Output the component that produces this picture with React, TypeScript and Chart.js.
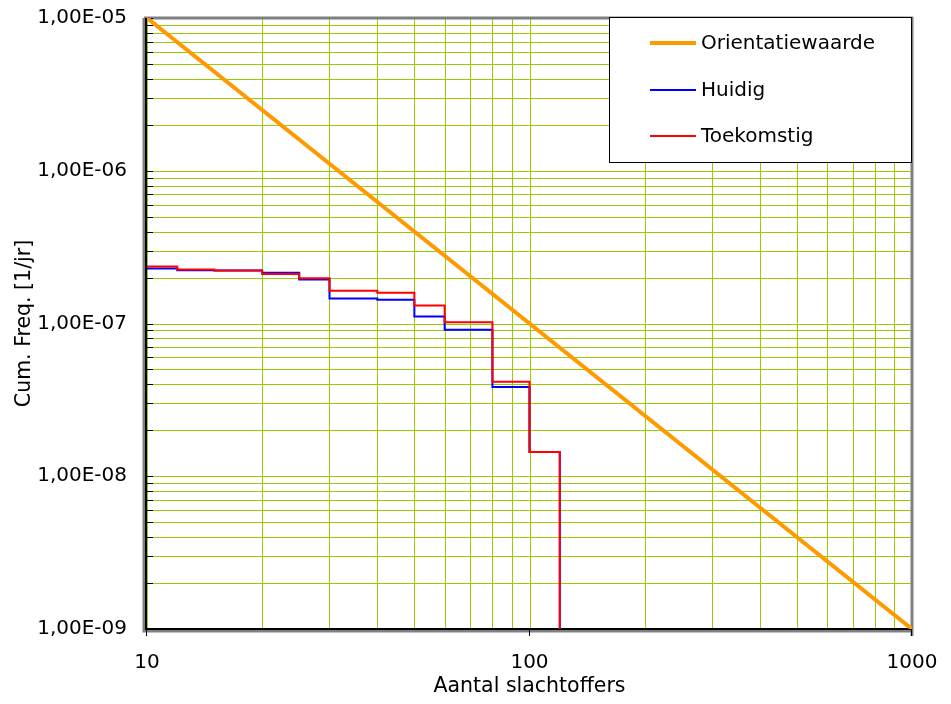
import React, { useEffect, useRef } from "react";
import { Chart, registerables } from "chart.js";

Chart.register(...registerables);

const stepX = [10, 12, 15, 20, 25, 30, 40, 50, 60, 80, 100, 120];
const huidig = [2.29e-7, 2.23e-7, 2.22e-7, 2.15e-7, 1.94e-7, 1.46e-7, 1.43e-7, 1.11e-7, 9.1e-8, 3.84e-8, 1.44e-8, 1e-9];
const toekomstig = [2.36e-7, 2.26e-7, 2.22e-7, 2.11e-7, 1.98e-7, 1.64e-7, 1.59e-7, 1.31e-7, 1.02e-7, 4.16e-8, 1.44e-8, 1e-9];
const orientX = [10, 1000];
const orientY = [1e-5, 1e-9];

const xTickValues = [10, 20, 30, 40, 50, 60, 70, 80, 90, 100, 200, 300, 400, 500, 600, 700, 800, 900, 1000];
const xMajor = [10, 100, 1000];
const xTickLabels = ["10", "100", "1000"];
const yDecades = [1e-9, 1e-8, 1e-7, 1e-6, 1e-5];
const yDecadeLabels = ["1,00E-09", "1,00E-08", "1,00E-07", "1,00E-06", "1,00E-05"];
const yMultipliers = [1, 2, 3, 4, 5, 6, 7, 8, 9];

const seriesNames = ["Orientatiewaarde", "Huidig", "Toekomstig"];
const seriesColors = ["#FF9900", "#0000FF", "#FF0000"];
const seriesWidths = [4, 2, 2];

const FONT = "'DejaVu Sans', sans-serif";
const GRID = "#99CC00";

const yTicks: number[] = [];
for (let d = 0; d < yDecades.length; d++) {
  for (const m of yMultipliers) {
    const v = yDecades[d] * m;
    if (v <= 1.0000001e-5) yTicks.push(v);
  }
}

const framePlugin = {
  id: "frame",
  beforeDatasetsDraw(chart: any) {
    const ctx = chart.ctx;
    const ca = chart.chartArea;
    const ys = chart.scales.y;
    const xs = chart.scales.x;
    ctx.save();
    // grid lines
    ctx.strokeStyle = GRID;
    ctx.lineWidth = 1;
    ctx.beginPath();
    for (const v of xTickValues) {
      const px = Math.round(xs.getPixelForValue(v)) + 0.5;
      ctx.moveTo(px, ca.top);
      ctx.lineTo(px, ca.bottom);
    }
    for (const v of yTicks) {
      const py = Math.round(ys.getPixelForValue(v)) + 0.5;
      ctx.moveTo(ca.left, py);
      ctx.lineTo(ca.right, py);
    }
    ctx.stroke();
    // top and right frame (gray)
    ctx.strokeStyle = "#808080";
    ctx.lineWidth = 3;
    ctx.beginPath();
    ctx.moveTo(ca.left - 3, ca.top);
    ctx.lineTo(ca.right, ca.top);
    ctx.lineTo(ca.right, ca.bottom + 7);
    ctx.stroke();
    // gray shadow of left & bottom axes
    ctx.beginPath();
    ctx.moveTo(ca.left - 3, ca.top);
    ctx.lineTo(ca.left - 3, ca.bottom + 2);
    ctx.lineTo(ca.right, ca.bottom + 2);
    ctx.stroke();
    // black axes
    ctx.strokeStyle = "#000";
    ctx.lineWidth = 2;
    ctx.beginPath();
    ctx.moveTo(ca.left - 1, ca.top);
    ctx.lineTo(ca.left - 1, ca.bottom);
    ctx.lineTo(ca.right, ca.bottom);
    ctx.stroke();
    // inward y tick marks
    ctx.lineWidth = 1;
    ctx.beginPath();
    for (const v of yTicks) {
      const py = Math.round(ys.getPixelForValue(v)) + 0.5;
      ctx.moveTo(ca.left - 1, py);
      ctx.lineTo(ca.left + 6, py);
    }
    ctx.stroke();
    // outward major x tick marks
    ctx.beginPath();
    for (const v of xMajor) {
      const px = Math.round(xs.getPixelForValue(v)) - 0.5;
      ctx.moveTo(px, ca.bottom);
      ctx.lineTo(px, ca.bottom + 7);
    }
    ctx.stroke();
    ctx.restore();
  },
  afterDatasetsDraw(chart: any) {
    const ctx = chart.ctx;
    ctx.save();
    const bx = 609, by = 17, bw = 303, bh = 146;
    ctx.fillStyle = "#FFFFFF";
    ctx.fillRect(bx, by, bw, bh);
    ctx.strokeStyle = "#000";
    ctx.lineWidth = 1;
    ctx.strokeRect(bx + 0.5, by + 0.5, bw - 1, bh - 1);
    const rows = [43, 90, 136];
    ctx.font = "20px " + FONT;
    ctx.textBaseline = "middle";
    ctx.textAlign = "left";
    for (let i = 0; i < seriesNames.length; i++) {
      ctx.strokeStyle = seriesColors[i];
      ctx.lineWidth = seriesWidths[i];
      ctx.beginPath();
      ctx.moveTo(650, rows[i]);
      ctx.lineTo(696, rows[i]);
      ctx.stroke();
      ctx.fillStyle = "#000";
      ctx.fillText(seriesNames[i], 701, rows[i] + 1);
    }
    ctx.restore();
  },
};

export default function App() {
  const ref = useRef<HTMLCanvasElement>(null);
  useEffect(() => {
    const yLabelFor = (v: number) => {
      for (let i = 0; i < yDecades.length; i++) {
        if (Math.abs(v / yDecades[i] - 1) < 1e-6) return yDecadeLabels[i];
      }
      return "";
    };
    const xLabelFor = (v: number) => {
      const i = xMajor.findIndex((t) => Math.abs(t - v) < 1e-6);
      return i >= 0 ? xTickLabels[i] : "";
    };
    const chart = new Chart(ref.current!, {
      type: "line",
      data: {
        datasets: [
          {
            label: seriesNames[0],
            data: orientX.map((x, i) => ({ x, y: orientY[i] })),
            borderColor: seriesColors[0],
            borderWidth: seriesWidths[0],
            pointRadius: 0,
            order: 2,
          },
          {
            label: seriesNames[1],
            data: stepX.map((x, i) => ({ x, y: huidig[i] })),
            borderColor: seriesColors[1],
            borderWidth: seriesWidths[1],
            pointRadius: 0,
            stepped: "before",
            order: 1,
          },
          {
            label: seriesNames[2],
            data: stepX.map((x, i) => ({ x, y: toekomstig[i] })),
            borderColor: seriesColors[2],
            borderWidth: seriesWidths[2],
            pointRadius: 0,
            stepped: "before",
            order: 0,
          },
        ],
      },
      options: {
        animation: false,
        responsive: false,
        devicePixelRatio: 1,
        layout: { padding: { top: 18, right: 39, left: 0, bottom: 0 } },
        plugins: { legend: { display: false }, tooltip: { enabled: false } },
        scales: {
          x: {
            type: "logarithmic",
            min: 10,
            max: 1000,
            afterBuildTicks: (s: any) => {
              s.ticks = xMajor.map((v) => ({ value: v }));
            },
            afterFit: (s: any) => {
              s.height = 75;
              s.paddingLeft = 0;
              s.paddingRight = 0;
            },
            grid: { display: false, drawTicks: false },
            border: { display: false },
            ticks: {
              autoSkip: false,
              maxRotation: 0,
              padding: 22,
              color: "#000",
              font: { family: FONT, size: 20 },
              callback: (v: any) => xLabelFor(Number(v)),
            },
            title: {
              display: true,
              text: "Aantal slachtoffers",
              color: "#000",
              font: { family: FONT, size: 20.5 },
              padding: { top: 0, bottom: 5 },
            },
          },
          y: {
            type: "logarithmic",
            min: 1e-9,
            max: 1e-5,
            afterBuildTicks: (s: any) => {
              s.ticks = yDecades.map((v) => ({ value: v }));
            },
            afterFit: (s: any) => {
              s.width = 147;
              s.paddingTop = 0;
              s.paddingBottom = 0;
            },
            grid: { display: false, drawTicks: false },
            border: { display: false },
            ticks: {
              autoSkip: false,
              padding: 20,
              color: "#000",
              font: { family: FONT, size: 20 },
              callback: (v: any) => yLabelFor(Number(v)),
            },
            title: {
              display: true,
              text: "Cum. Freq. [1/jr]",
              color: "#000",
              font: { family: FONT, size: 20.5 },
              padding: { top: 12, bottom: 0 },
            },
          },
        },
      },
      plugins: [framePlugin],
    } as any);
    return () => chart.destroy();
  }, []);
  return (
    <div style={{ position: "fixed", left: 0, top: 0, width: 951, height: 704, background: "#fff" }}>
      <canvas ref={ref} width={951} height={704} style={{ width: 951, height: 704 }} />
    </div>
  );
}
